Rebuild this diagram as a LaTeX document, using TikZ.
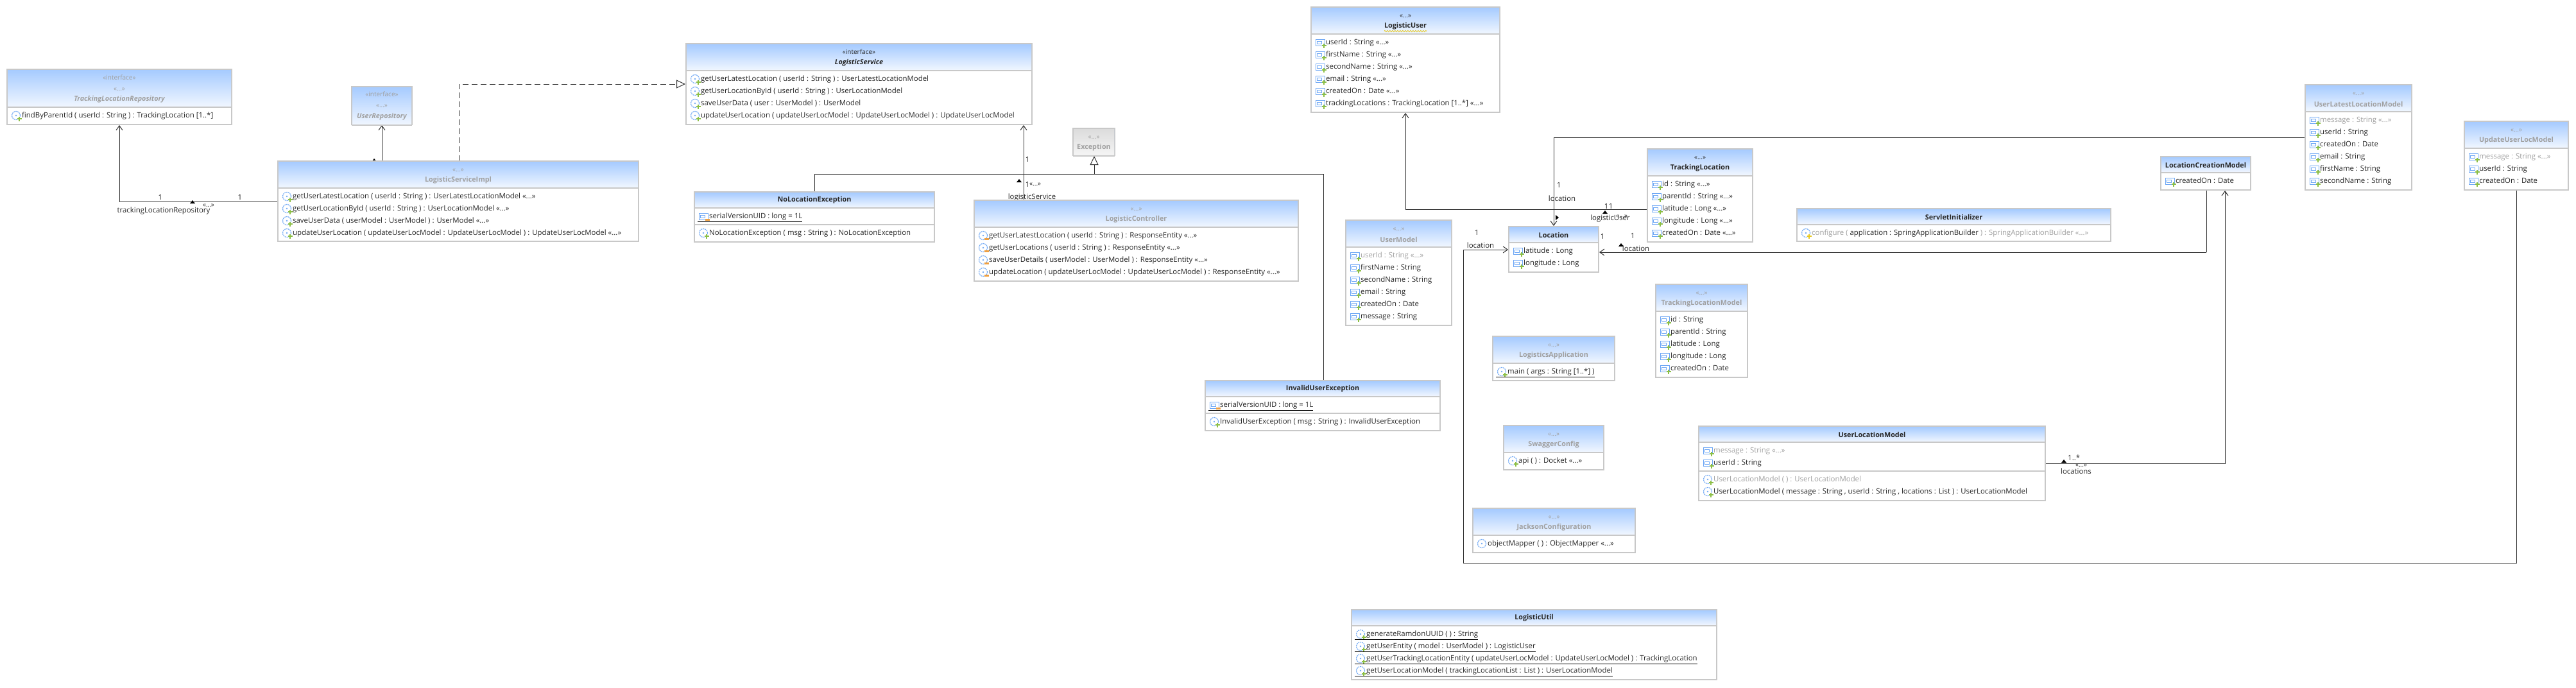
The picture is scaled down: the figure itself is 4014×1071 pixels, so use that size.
\documentclass[tikz,border=0pt]{standalone}
\usepackage{fontspec}
\setmainfont{Open Sans}
\usetikzlibrary{arrows.meta,decorations.pathmorphing}
\definecolor{hdrtop}{HTML}{A6CBFF}
\definecolor{hdrbot}{HTML}{F0F6FF}
\definecolor{gretop}{HTML}{DCDCDC}
\definecolor{grebot}{HTML}{F4F4F4}
\definecolor{boxline}{HTML}{C8C8C8}
\definecolor{inktext}{HTML}{262626}
\definecolor{greytext}{HTML}{A0A0A0}
\definecolor{wireink}{HTML}{303030}
\definecolor{iconblue}{HTML}{6FA8F5}
\definecolor{plusgreen}{HTML}{8CBF45}
\definecolor{minusorange}{HTML}{F0A040}
\definecolor{plusyellow}{HTML}{E8C820}
\pgfdeclarelayer{wires}
\pgfsetlayers{wires,main}
\tikzset{
    classbody/.style={draw=boxline,fill=white,line width=2pt,inner sep=0pt,outer sep=0pt},
    namebold/.style={font=\fontsize{10.8}{13}\selectfont\bfseries,text=inktext,inner sep=0pt},
    namegrey/.style={namebold,text=greytext},
    nameital/.style={namebold,font=\fontsize{10.8}{13}\selectfont\bfseries\itshape},
    namegreyital/.style={nameital,text=greytext},
    stereo/.style={font=\fontsize{10}{12}\selectfont,text=greytext,inner sep=0pt},
    stereodark/.style={stereo,text=inktext},
    rowtext/.style={font=\fontsize{11.4}{14}\selectfont,text=inktext,inner sep=0pt,anchor=west,text height=9pt,text depth=3pt},
    wirelabel/.style={font=\fontsize{11.4}{14}\selectfont,text=inktext,inner sep=0pt},
    wire/.style={draw=wireink,line width=1pt},
    assoc/.style={wire,-{Straight Barb[length=7pt,width=10pt]},shorten >=1pt},
    realize/.style={wire,dash pattern=on 9pt off 5pt,-{Triangle[open,length=14pt,width=13pt,fill=white]},shorten >=1pt},
    inherit/.style={wire,-{Triangle[open,length=14pt,width=13pt,fill=white]},shorten >=1pt},
    attricon/.pic={
        \draw[iconblue,line width=1pt] (-7,-5) rectangle (7,5);
        \draw[iconblue,line width=1pt] (-4.5,-2) rectangle (2,2);
    },
    methicon/.pic={
        \draw[iconblue,line width=1.2pt,dash pattern=on 2pt off 1pt] (0,0) circle (6.5pt);
        \fill[iconblue] (0,0) circle (1.3pt);
    },
    plusmark/.pic={
        \fill[plusgreen] (-1.3,-3.5) rectangle (1.3,3.5);
        \fill[plusgreen] (-3.5,-1.3) rectangle (3.5,1.3);
    },
    yellowmark/.pic={
        \fill[plusyellow] (-1.3,-3.5) rectangle (1.3,3.5);
        \fill[plusyellow] (-3.5,-1.3) rectangle (3.5,1.3);
    },
    minusmark/.pic={\fill[minusorange] (-3.5,-1.5) rectangle (3.5,1.5);},
    nomark/.pic={},
    updir/.pic={\fill[black] (-4,0) -- (4,0) -- (0,-5) -- cycle;},
    rightdir/.pic={\fill[black] (0,-4) -- (0,4) -- (5,0) -- cycle;},
}
% box: name, left, top, right, bottom, end of header
\newcommand{\classbox}[6]{
    \pgfmathsetmacro{\boxw}{#4-#2-2}
    \pgfmathsetmacro{\boxh}{#5-#3-2}
    \node[classbody,minimum width=\boxw pt,minimum height=\boxh pt] (#1) at ({(#2+#4)/2},{(#3+#5)/2}) {};
    \shade[top color=hdrtop,bottom color=hdrbot] (#2+2,#3+2) rectangle (#4-2,#6-1);
    \draw[boxline,line width=2pt] (#2+1,#6) -- (#4-1,#6);
}
\newcommand{\splitline}[2]{\draw[boxline,line width=1.5pt] (#1.west |- 0,#2) -- (#1.east |- 0,#2);}
\newcommand{\headtext}[4]{\node[#3] (#1-#2) at (#1.north |- 0,#2) {#4};}
\newcommand{\attrrow}[4][plusmark]{
    \pic[xshift=14pt] at (#2.west |- 0,#3) {attricon};
    \pic[xshift=20pt,yshift=-5pt] at (#2.west |- 0,#3) {#1};
    \node[rowtext,xshift=23pt] (#2-#3) at (#2.west |- 0,#3) {#4};
}
\newcommand{\methrow}[4][plusmark]{
    \pic[xshift=14pt] at (#2.west |- 0,#3) {methicon};
    \pic[xshift=19pt,yshift=-5pt] at (#2.west |- 0,#3) {#1};
    \node[rowtext,xshift=23pt] (#2-#3) at (#2.west |- 0,#3) {#4};
}
\newcommand{\statline}[1]{\draw[black,line width=1pt] ([xshift=-18pt,yshift=-8.5pt]#1.west) -- ([yshift=-8.5pt]#1.east);}
\newcommand{\gr}[1]{\textcolor{greytext}{#1}}
\begin{document}
\begin{tikzpicture}[x=1pt,y=-1pt]
    \useasboundingbox (0,0) rectangle (4014,1071);

    \classbox{trackrepo}{10}{107}{362}{195}{167}
    \headtext{trackrepo}{121}{stereo}{«interface»}
    \headtext{trackrepo}{139}{stereo}{«...»}
    \headtext{trackrepo}{155}{namegreyital}{TrackingLocationRepository}
    \methrow{trackrepo}{180}{findByParentId ( userId : String ) :  TrackingLocation [1..*]}

    \classbox{userrepo}{547}{134}{643}{195}{195}
    \headtext{userrepo}{147}{stereo}{«interface»}
    \headtext{userrepo}{165}{stereo}{«...»}
    \headtext{userrepo}{182}{namegreyital}{UserRepository}

    \classbox{implbox}{432}{250}{996}{377}{293}
    \headtext{implbox}{265}{stereo}{«...»}
    \headtext{implbox}{281}{namegrey}{LogisticServiceImpl}
    \methrow{implbox}{306}{getUserLatestLocation ( userId : String ) :  UserLatestLocationModel «...»}
    \methrow{implbox}{325}{getUserLocationById ( userId : String ) :  UserLocationModel «...»}
    \methrow{implbox}{344}{saveUserData ( userModel : UserModel ) :  UserModel «...»}
    \methrow{implbox}{363}{updateUserLocation ( updateUserLocModel : UpdateUserLocModel ) :  UpdateUserLocModel «...»}

    \classbox{servicebox}{1068}{67}{1609}{195}{110}
    \headtext{servicebox}{81}{stereodark}{«interface»}
    \headtext{servicebox}{98}{nameital}{LogisticService}
    \methrow{servicebox}{123}{getUserLatestLocation ( userId : String ) :  UserLatestLocationModel}
    \methrow{servicebox}{142}{getUserLocationById ( userId : String ) :  UserLocationModel}
    \methrow{servicebox}{161}{saveUserData ( user : UserModel ) :  UserModel}
    \methrow{servicebox}{180}{updateUserLocation ( updateUserLocModel : UpdateUserLocModel ) :  UpdateUserLocModel}

    \classbox{exceptbox}{1671}{199}{1738}{243}{243}
    \shade[top color=gretop,bottom color=grebot] (1673,201) rectangle (1736,241);
    \headtext{exceptbox}{214}{stereo}{«...»}
    \headtext{exceptbox}{230}{namegrey}{Exception}

    \classbox{nolocbox}{1081}{298}{1457}{378}{324}
    \headtext{nolocbox}{312}{namebold}{NoLocationException}
    \attrrow[minusmark]{nolocbox}{337}{serialVersionUID : long = 1L}
    \statline{nolocbox-337}
    \splitline{nolocbox}{350}
    \methrow{nolocbox}{363}{NoLocationException ( msg : String ) :  NoLocationException}

    \classbox{controlbox}{1517}{311}{2024}{439}{354}
    \headtext{controlbox}{326}{stereo}{«...»}
    \headtext{controlbox}{342}{namegrey}{LogisticController}
    \methrow[minusmark]{controlbox}{367}{getUserLatestLocation ( userId : String ) :  ResponseEntity «...»}
    \methrow[minusmark]{controlbox}{386}{getUserLocations ( userId : String ) :  ResponseEntity «...»}
    \methrow[minusmark]{controlbox}{405}{saveUserDetails ( userModel : UserModel ) :  ResponseEntity «...»}
    \methrow[minusmark]{controlbox}{424}{updateLocation ( updateUserLocModel : UpdateUserLocModel ) :  ResponseEntity «...»}

    \classbox{invalidbox}{1877}{592}{2245}{672}{618}
    \headtext{invalidbox}{606}{namebold}{InvalidUserException}
    \attrrow[minusmark]{invalidbox}{631}{serialVersionUID : long = 1L}
    \statline{invalidbox-631}
    \splitline{invalidbox}{644}
    \methrow{invalidbox}{657}{InvalidUserException ( msg : String ) :  InvalidUserException}

    \classbox{userbox}{2042}{10}{2338}{176}{53}
    \headtext{userbox}{25}{stereodark}{«...»}
    \headtext{userbox}{41}{namebold}{LogisticUser}
    \draw[plusyellow,line width=.8pt,decorate,decoration={zigzag,segment length=4pt,amplitude=1.2pt}] ([yshift=-2pt]userbox-41.south west) -- ([yshift=-2pt]userbox-41.south east);
    \attrrow{userbox}{66}{userId : String «...»}
    \attrrow{userbox}{85}{firstName : String «...»}
    \attrrow{userbox}{104}{secondName : String «...»}
    \attrrow{userbox}{123}{email : String «...»}
    \attrrow{userbox}{142}{createdOn : Date «...»}
    \attrrow{userbox}{161}{trackingLocations : TrackingLocation [1..*] «...»}

    \classbox{modelbox}{2096}{342}{2263}{508}{385}
    \headtext{modelbox}{357}{stereo}{«...»}
    \headtext{modelbox}{373}{namegrey}{UserModel}
    \attrrow{modelbox}{398}{\gr{userId : String «...»}}
    \attrrow{modelbox}{417}{firstName : String}
    \attrrow{modelbox}{436}{secondName : String}
    \attrrow{modelbox}{455}{email : String}
    \attrrow{modelbox}{474}{createdOn : Date}
    \attrrow{modelbox}{493}{message : String}

    \classbox{locationbox}{2350}{352}{2492}{425}{378}
    \headtext{locationbox}{366}{namebold}{Location}
    \attrrow{locationbox}{391}{latitude : Long}
    \attrrow{locationbox}{410}{longitude : Long}

    \classbox{trackbox}{2566}{231}{2732}{378}{274}
    \headtext{trackbox}{246}{stereodark}{«...»}
    \headtext{trackbox}{262}{namebold}{TrackingLocation}
    \attrrow{trackbox}{287}{id : String «...»}
    \attrrow{trackbox}{306}{parentId : String «...»}
    \attrrow{trackbox}{325}{latitude : Long «...»}
    \attrrow{trackbox}{344}{longitude : Long «...»}
    \attrrow{trackbox}{363}{createdOn : Date «...»}

    \classbox{trackmodel}{2579}{442}{2724}{589}{485}
    \headtext{trackmodel}{457}{stereo}{«...»}
    \headtext{trackmodel}{473}{namegrey}{TrackingLocationModel}
    \attrrow{trackmodel}{498}{id : String}
    \attrrow{trackmodel}{517}{parentId : String}
    \attrrow{trackmodel}{536}{latitude : Long}
    \attrrow{trackmodel}{555}{longitude : Long}
    \attrrow{trackmodel}{574}{createdOn : Date}

    \classbox{appbox}{2325}{523}{2517}{594}{566}
    \headtext{appbox}{538}{stereo}{«...»}
    \headtext{appbox}{554}{namegrey}{LogisticsApplication}
    \methrow{appbox}{579}{main ( args : String [1..*] )}
    \statline{appbox-579}

    \classbox{swaggerbox}{2342}{662}{2500}{733}{705}
    \headtext{swaggerbox}{677}{stereo}{«...»}
    \headtext{swaggerbox}{693}{namegrey}{SwaggerConfig}
    \methrow{swaggerbox}{718}{api ( ) :  Docket «...»}

    \classbox{jacksonbox}{2294}{791}{2549}{862}{834}
    \headtext{jacksonbox}{806}{stereo}{«...»}
    \headtext{jacksonbox}{822}{namegrey}{JacksonConfiguration}
    \methrow[nomark]{jacksonbox}{847}{objectMapper ( ) :  ObjectMapper «...»}

    \classbox{locmodel}{2646}{663}{3188}{781}{689}
    \headtext{locmodel}{677}{namebold}{UserLocationModel}
    \attrrow{locmodel}{702}{\gr{message : String «...»}}
    \attrrow{locmodel}{721}{userId : String}
    \splitline{locmodel}{734}
    \methrow{locmodel}{747}{\gr{UserLocationModel ( ) :  UserLocationModel}}
    \methrow{locmodel}{766}{UserLocationModel ( message : String , userId : String , locations : List ) :  UserLocationModel}

    \classbox{utilbox}{2105}{949}{2676}{1060}{975}
    \headtext{utilbox}{963}{namebold}{LogisticUtil}
    \methrow{utilbox}{988}{generateRamdonUUID ( ) :  String}
    \statline{utilbox-988}
    \methrow{utilbox}{1007}{getUserEntity ( model : UserModel ) :  LogisticUser}
    \statline{utilbox-1007}
    \methrow{utilbox}{1026}{getUserTrackingLocationEntity ( updateUserLocModel : UpdateUserLocModel ) :  TrackingLocation}
    \statline{utilbox-1026}
    \methrow{utilbox}{1045}{getUserLocationModel ( trackingLocationList : List ) :  UserLocationModel}
    \statline{utilbox-1045}

    \classbox{servletbox}{2799}{324}{3290}{377}{350}
    \headtext{servletbox}{338}{namebold}{ServletInitializer}
    \methrow[yellowmark]{servletbox}{363}{\gr{configure (} application : SpringApplicationBuilder \gr{) :  SpringApplicationBuilder «...»}}

    \classbox{creationbox}{3366}{243}{3508}{297}{269}
    \headtext{creationbox}{257}{namebold}{LocationCreationModel}
    \attrrow{creationbox}{282}{createdOn : Date}

    \classbox{latestbox}{3591}{131}{3759}{297}{174}
    \headtext{latestbox}{146}{stereo}{«...»}
    \headtext{latestbox}{162}{namegrey}{UserLatestLocationModel}
    \attrrow{latestbox}{187}{\gr{message : String «...»}}
    \attrrow{latestbox}{206}{userId : String}
    \attrrow{latestbox}{225}{createdOn : Date}
    \attrrow{latestbox}{244}{email : String}
    \attrrow{latestbox}{263}{firstName : String}
    \attrrow{latestbox}{282}{secondName : String}

    \classbox{updatebox}{3839}{188}{4003}{297}{231}
    \headtext{updatebox}{203}{stereo}{«...»}
    \headtext{updatebox}{219}{namegrey}{UpdateUserLocModel}
    \attrrow{updatebox}{244}{\gr{message : String «...»}}
    \attrrow{updatebox}{263}{userId : String}
    \attrrow{updatebox}{282}{createdOn : Date}

    \begin{pgfonlayer}{wires}
    \fill[white] (0,0) rectangle (4014,1071);

    % bends
    \coordinate (trackbend) at (186,314);
    \coordinate (userrepoup) at (595,250);
    \coordinate (dashbend) at (715,131);
    \coordinate (serviceup) at (1595,250);
    \coordinate (inhleft) at (1269,271);
    \coordinate (inhmid) at (1705,271);
    \coordinate (inhright) at (2062,271);
    \coordinate (userbend) at (2190,326);
    \coordinate (latestbend) at (2421,214);
    \coordinate (updatelow) at (2280,877);
    \coordinate (updateleft) at (2280,389);
    \coordinate (updateright) at (3921,877);
    \coordinate (creationbend) at (3438,393);
    \coordinate (locmodelbend) at (3467,722);

    % connectors
    \draw[assoc] (implbox.west |- trackbend) -- (trackbend) -- (trackrepo.south -| trackbend);
    \draw[assoc] (implbox.north -| userrepoup) -- (userrepo.south -| userrepoup);
    \draw[realize] (implbox.north -| dashbend) -- (dashbend) -- (servicebox.west |- dashbend);
    \draw[assoc] (controlbox.north -| serviceup) -- (servicebox.south -| serviceup);
    \draw[wire] (nolocbox.north -| inhleft) -- (inhleft) -- (inhright) -- (invalidbox.north -| inhright);
    \draw[inherit] (inhmid) -- (exceptbox.south -| inhmid);
    \draw[assoc] (trackbox.west |- userbend) -- (userbend) -- (userbox.south -| userbend);
    \draw[assoc] (latestbox.west |- latestbend) -- (latestbend) -- (locationbox.north -| latestbend);
    \draw[assoc] (updatebox.south -| updateright) -- (updateright) -- (updatelow) -- (updateleft) -- (locationbox.west |- updateleft);
    \draw[wire] (creationbox.south -| creationbend) -- (creationbend);
    \draw[assoc] (creationbend) -- (locationbox.east |- creationbend);
    \draw[assoc] (locmodel.east |- locmodelbend) -- (locmodelbend) -- (creationbox.south -| locmodelbend);

    % ends of the associations
    \pic at (300,317) {updir};
    \pic at (583,252) {updir};
    \pic at (1588,284) {updir};
    \pic at (2424,339) {rightdir};
    \pic at (2501,333) {updir};
    \pic at (2526,384) {updir};
    \pic at (3216,721) {updir};

    % labels
    \node[wirelabel] (trackone) at (250,307) {1};
    \node[wirelabel] (tracktwo) at (374,307) {1};
    \node[stereodark] (trackmark) at (325,320) {«...»};
    \node[wirelabel] (trackname) at (255,329) {trackingLocationRepository};
    \node[wirelabel] (serviceone) at (1601,248) {1};
    \node[wirelabel] (servicetwo) at (1601,287) {1};
    \node[stereodark,anchor=west] (servicemark) at (1604,287) {«...»};
    \node[wirelabel] (servicename) at (1608,308) {logisticService};
    \node[wirelabel] (userone) at (2503,321) {1};
    \node[wirelabel] (usertwo) at (2510,321) {1};
    \node[stereodark] (usermark) at (2527,337) {«...»};
    \node[wirelabel] (username) at (2509,341) {logisticUser};
    \node[wirelabel] (latestone) at (2429,288) {1};
    \node[wirelabel] (latestname) at (2434,309) {location};
    \node[wirelabel] (updateone) at (2301,362) {1};
    \node[wirelabel] (updatename) at (2307,382) {location};
    \node[wirelabel] (creationone) at (2497,368) {1};
    \node[wirelabel] (creationtwo) at (2544,367) {1};
    \node[wirelabel] (creationname) at (2549,387) {location};
    \node[wirelabel,anchor=west] (locmany) at (3222,713) {1..*};
    \node[stereodark] (locmark) at (3243,725) {«...»};
    \node[wirelabel] (locname) at (3235,734) {locations};
    \end{pgfonlayer}
\end{tikzpicture}
\end{document}
